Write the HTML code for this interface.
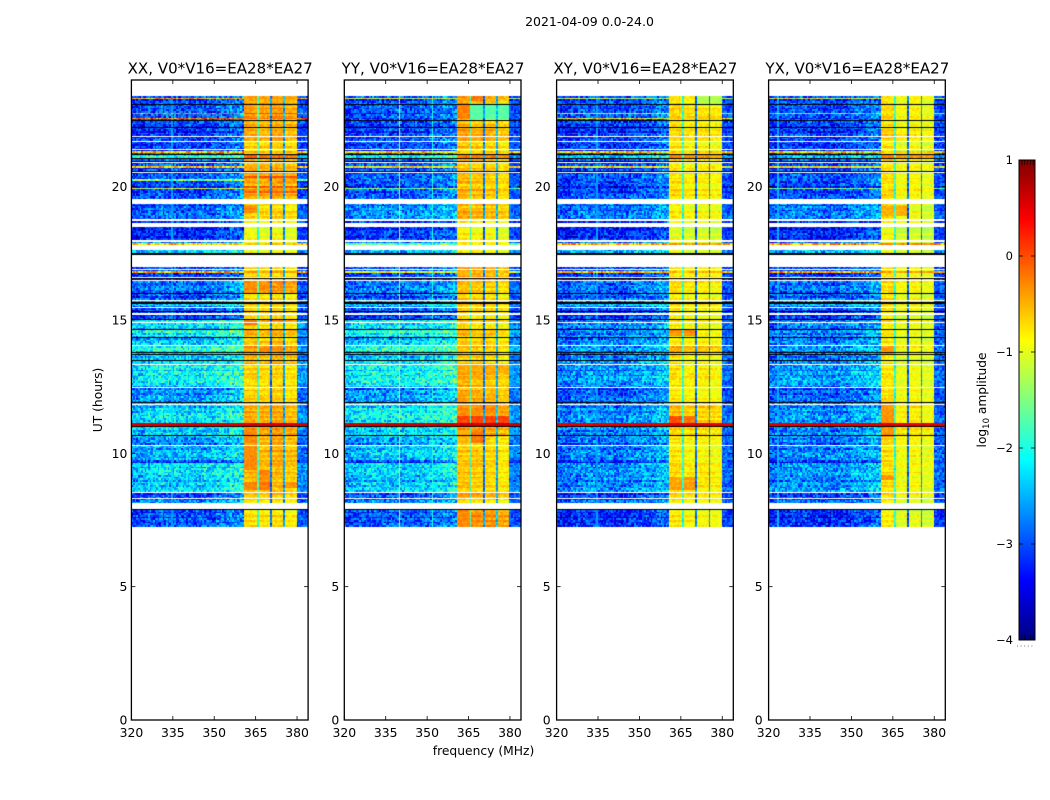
<!DOCTYPE html>
<html lang="en">
<head>
<meta charset="utf-8">
<title>2021-04-09 waterfall</title>
<style>
html,body{margin:0;padding:0;background:#fff;width:1050px;height:800px;overflow:hidden}
#figure{position:relative;width:1050px;height:800px;background:#fff}
canvas{position:absolute;top:80px}
svg{position:absolute;left:0;top:0}
text{font-family:"DejaVu Sans","Liberation Sans",sans-serif;fill:#000}
</style>
</head>
<body>
<div id="figure">
<svg id="overlay" width="1050" height="800" viewBox="0 0 1050 800">
<defs><linearGradient id="jetGrad" x1="0" y1="1" x2="0" y2="0"></linearGradient></defs>
<text x="589.5" y="26" font-size="12.5" text-anchor="middle">2021-04-09 0.0-24.0</text>
<text x="483.5" y="755" font-size="12.3" text-anchor="middle">frequency (MHz)</text>
<text transform="translate(102,400) rotate(-90)" font-size="12.3" text-anchor="middle">UT (hours)</text>
<text transform="translate(986,400) rotate(-90)" font-size="12.2" text-anchor="middle">log<tspan font-size="8.5" dy="3">10</tspan><tspan dy="-3"> amplitude</tspan></text>
</svg>
</div>
<script>
// ---- Axis values ----
const xTickValues = [320, 335, 350, 365, 380];
const yTickValues = [0, 5, 10, 15, 20];
const colorbarTicks = [1, 0, -1, -2, -3, -4];
const panelNames = ['XX', 'YY', 'XY', 'YX'];

// ---- Time bands: UT hour at which each band starts ----
const utBandStarts = [7.25,8.15,8.33,8.55,9.64,9.75,10.31,10.65,11.0,11.14,11.88,12.48,13.33,13.75,14.02,14.35,14.65,14.89,15.02,15.19,15.33,15.47,15.72,16.0,16.42,16.97,17.53,18.0,18.78,19.53,20.55,20.94,21.05,21.18,21.37,21.67,22.2,22.47,23.08];
const dataEndUT = 23.4;

// ---- Off-band log10 amplitude (320-361 MHz), one per time band ----
const bgXX = [-3.0,-2.7,-3.0,-2.3,-3.0,-2.5,-2.6,-2.35,0.55,-2.25,-2.6,-2.15,-2.35,-1.95,-2.4,-1.95,-2.35,-2.0,-3.1,-3.2,-2.9,-2.3,-2.9,-2.8,-3.1,-3.1,-2.4,-3.2,-2.9,-3.0,-3.0,-3.0,-2.0,-2.9,-3.1,-3.1,-3.1,-3.0,-3.0];
const bgYY = [-3.0,-2.7,-3.0,-2.35,-3.0,-2.4,-2.55,-2.3,0.6,-2.15,-2.6,-2.1,-2.3,-1.95,-2.4,-1.95,-2.3,-2.0,-3.1,-3.2,-2.9,-2.4,-2.85,-2.8,-3.0,-3.1,-2.5,-3.15,-2.7,-2.95,-2.95,-3.0,-2.1,-2.95,-3.05,-3.05,-3.1,-3.0,-3.0];
const bgXY = [-3.2,-2.9,-3.1,-2.7,-3.1,-2.75,-2.8,-2.7,0.5,-2.7,-2.9,-2.65,-2.7,-2.6,-2.75,-2.65,-2.75,-2.7,-3.15,-3.2,-3.0,-2.5,-2.9,-2.85,-3.1,-3.1,-2.5,-3.25,-2.85,-3.05,-3.05,-3.05,-2.4,-2.95,-3.1,-3.1,-3.1,-3.05,-3.05];
const bgYX = [-3.2,-2.9,-3.1,-2.65,-3.1,-2.7,-2.8,-2.7,0.5,-2.65,-2.9,-2.6,-2.75,-2.55,-2.75,-2.65,-2.8,-2.7,-3.15,-3.2,-3.0,-2.5,-2.85,-2.85,-3.1,-3.1,-2.5,-3.25,-2.8,-3.05,-3.05,-3.05,-2.4,-2.95,-3.1,-3.1,-3.1,-3.05,-3.05];

// ---- In-band log10 amplitude (361-380 MHz), one per time band ----
const passXX = [-0.8,-0.8,-0.7,-0.6,-0.55,-0.55,-0.55,-0.5,0.5,-0.55,-0.7,-0.75,-0.55,-0.45,-0.7,-0.55,-0.75,-0.5,-0.7,-0.7,-0.75,-0.7,-0.8,-0.45,-0.8,-0.7,-0.9,-1.0,-0.75,-0.5,-0.6,-0.7,-0.35,-0.8,-0.7,-0.55,-0.6,-0.45,-0.45];
const passYY = [-0.4,-0.8,-0.6,-0.7,-0.7,-0.7,-0.75,-0.55,0.55,-0.4,-0.55,-0.6,-0.7,-0.7,-0.75,-0.65,-0.8,-0.7,-0.8,-0.8,-0.75,-0.7,-0.75,-0.7,-0.55,-0.7,-0.8,-0.95,-0.6,-0.65,-0.7,-0.7,-0.4,-0.75,-0.7,-0.55,-0.7,-0.5,-0.5];
const passXY = [-0.85,-0.85,-0.8,-0.75,-0.85,-0.85,-0.85,-0.75,0.4,-0.65,-0.85,-0.8,-0.8,-0.55,-0.85,-0.85,-0.85,-0.8,-0.85,-0.9,-0.85,-0.8,-0.9,-0.8,-0.85,-0.8,-0.95,-1.05,-0.9,-0.8,-0.85,-0.8,-0.45,-0.9,-0.85,-0.75,-0.85,-0.7,-0.8];
const passYX = [-0.95,-0.95,-0.9,-0.85,-0.85,-0.85,-0.85,-0.75,0.35,-0.8,-0.85,-0.9,-0.9,-0.8,-0.95,-0.9,-0.9,-0.85,-0.95,-0.95,-0.9,-0.85,-0.9,-0.85,-0.9,-0.85,-0.95,-1.05,-0.95,-0.85,-0.9,-0.85,-0.45,-0.95,-0.9,-0.8,-0.9,-0.8,-0.85];

// ---- Per-panel tilt of the four in-band sub-bands (log10) ----
const subOffsetXX = [0.05, 0, 0.05, -0.05];
const subOffsetYY = [0.1, 0.05, 0, -0.1];
const subOffsetXY = [0.05, -0.05, -0.05, -0.1];
const subOffsetYX = [0.1, -0.1, -0.05, -0.15];

// ---- Frequency structure in MHz ----
const subBandEdges = [360.4, 365.3, 365.9, 370, 371, 375, 375.8, 379.8];
const gapLevels = [-1.9, -2.8, -2.6];
const offBandShape = [-0.1, 0.03, 0.05, 0, -0.03, 0.05, 0.15, 0.3];

// ---- Flagged (blank) and zero-valued (black) time ranges, UT hours ----
const whiteRanges = [[7.9,8.15],[8.29,8.33],[8.51,8.55],[10.27,10.31],[11.8,11.84],[12.45,12.49],[13.31,13.35],[14.0,14.05],[14.87,14.91],[15.19,15.28],[15.46,15.5],[15.71,15.75],[16.46,16.5],[16.57,16.6],[16.88,16.91],[16.97,17.46],[17.62,17.8],[17.92,17.99],[18.5,18.65],[18.72,18.78],[19.35,19.53],[20.5,20.54],[20.88,20.92],[21.36,21.4],[21.66,21.7],[21.87,21.91],[22.46,22.5]];
const blackRanges = [[7.85,7.9],[10.98,11.02],[10.66,10.7],[11.87,11.91],[13.45,13.49],[13.68,13.72],[13.75,13.79],[14.33,14.37],[14.64,14.68],[15.01,15.05],[15.28,15.33],[15.58,15.62],[15.64,15.68],[15.99,16.03],[16.52,16.56],[17.46,17.53],[20.54,20.58],[20.93,20.97],[21.04,21.08],[21.17,21.21],[22.19,22.23],[22.45,22.49],[23.07,23.11]];

// ---- Interference rows: UT hour, log10 amplitude ----
const rfiXX = [[23.28,-0.4],[22.72,-0.1],[22.55,-0.2],[21.3,-0.5],[20.73,-0.5],[17.86,-0.6],[16.8,-0.4],[19.9,-1.0],[20.2,-1.4],[20.0,-0.8]];
const rfiYY = [[23.28,-0.9],[21.3,-0.6],[20.73,-0.7],[17.86,-1.6],[16.8,-0.9],[20.0,-1.6],[19.9,-1.5]];
const rfiXY = [[23.28,-1.1],[22.72,-0.8],[22.55,-0.6],[21.3,-0.6],[20.73,-0.8],[17.86,-0.4],[16.8,-0.5],[20.0,-1.6]];
const rfiYX = [[23.28,-0.9],[22.72,-1.7],[21.3,-0.6],[20.73,-0.8],[17.86,-0.3],[16.8,-0.4],[20.0,-1.6],[19.9,-1.5]];

// ---- Narrow interference channels: MHz, log10 amplitude ----
const channelLinesXX = [[334.5,-2.6]];
const channelLinesYY = [[340,-1.2],[351.8,-2.0]];
const channelLinesXY = [[334.5,-2.6]];
const channelLinesYX = [[323,-2.5]];

// ---- Hot patches: UT start, UT end, MHz start, MHz end, log10 amplitude ----
const patchesXX = [[9.4,10.9,360.4,365.3,-0.3],[8.6,8.95,360.4,365.3,-0.25],[8.6,8.95,366,370,-0.2],[8.95,9.35,366,370,-0.3],[8.7,8.95,375.8,379.8,-0.35],[14.8,15.0,360.4,365.3,-0.2],[13.8,14.0,366,370,-0.3],[13.8,14.0,371,375,-0.3],[16.1,16.35,360.4,365.3,-0.3],[16.1,16.35,366,370,-0.3],[20.3,20.36,360.4,379.8,0.0],[19.93,20.0,360.4,379.8,0.05],[19.74,19.8,360.4,379.8,0],[21.1,21.18,360.4,379.8,0.05],[19.0,19.34,360.4,365.3,-0.3],[22.7,22.75,360.4,379.8,0.1]];
const patchesYY = [[11.14,11.4,360.4,379.8,0.05],[10.4,10.9,366,370,-0.2],[10.4,10.9,360.4,365.3,-0.5],[22.5,23.1,365.9,379.8,-1.7],[22.5,23.1,360.4,365.3,-0.25],[23.2,23.4,366,370,-0.2],[11.5,11.85,360.4,375,-0.3],[7.25,7.85,360.4,365.3,-0.3],[13.0,13.3,360.4,379.8,-0.45],[21.1,21.18,360.4,379.8,-0.1]];
const patchesXY = [[11.14,11.35,360.4,365.3,0],[11.14,11.35,366,370,-0.2],[21.1,21.18,360.4,379.8,-0.15],[23.0,23.4,371,379.8,-1.25],[8.65,9.1,360.4,370,-0.4],[14.35,14.62,360.4,370,-0.3],[19.97,20.03,360.4,379.8,-0.4]];
const patchesYX = [[10.6,11.9,360.4,365.3,-0.35],[9.0,9.2,360.4,365.3,-0.35],[21.1,21.18,360.4,379.8,-0.15],[19.97,20.03,360.4,379.8,-0.4],[13.7,14.0,360.4,365.3,-0.35],[18.9,19.3,360.4,370,-0.5]];

// ---- Hand-typed texture deviations (cell grain and row ripple) ----
const grain = [0.5,-0.3,0.1,-0.7,0.8,0.2,-0.5,0,0.6,-0.9,0.3,-0.2,0.7,-0.6,0.1,0.4,-0.8,0.2,-0.1,0.9,-0.4,0.3,-0.7,0.5,0,-0.3,0.6,-0.5,0.2,-1.0,0.4,0.1,-0.2,0.7,-0.6,0.3,-0.4,0.8,0,-0.8,0.5,-0.1,0.2,-0.5,0.6,-0.3,0.9,-0.7,0.1,0.4,-0.2,0.3,-0.9,0.6,0,-0.4,0.7,-0.6,0.2,0.5,-0.1];
const rowRipple = [0.05,0.05,-0.3,0.05,0.1,-0.55,0,0.05,-0.2,0.05,0.1];
const passRipple = [0.2,-0.1,0,0.25,-0.15,0.05,0.3,-0.1,0,-0.2,0.1,0.2,-0.05];

// ---- Layout constants ----
const panelLefts = [131.4, 344.3, 556.6, 768.6];
const yLabelGaps = [4, 5, 6, 6];
const panelWidth = 176.7;
const plotTop = 80, plotBottom = 720;
const channelStep = 0.6, rowStep = 0.0625;
const colorbarLeft = 1019, colorbarRight = 1035, colorbarTop = 160, colorbarBottom = 640;

const panelSeries = {
  XX: {bg: bgXX, pass: passXX, sub: subOffsetXX, rfi: rfiXX, lines: channelLinesXX, patches: patchesXX},
  YY: {bg: bgYY, pass: passYY, sub: subOffsetYY, rfi: rfiYY, lines: channelLinesYY, patches: patchesYY},
  XY: {bg: bgXY, pass: passXY, sub: subOffsetXY, rfi: rfiXY, lines: channelLinesXY, patches: patchesXY},
  YX: {bg: bgYX, pass: passYX, sub: subOffsetYX, rfi: rfiYX, lines: channelLinesYX, patches: patchesYX}
};

function xScale(freq, left) { return left + (freq - 320) * panelWidth / 64; }
function yScale(ut) { return plotBottom - ut * (plotBottom - plotTop) / 24; }
function cbScale(v) { return colorbarBottom - (v + 4) * (colorbarBottom - colorbarTop) / 5; }
function clamp01(x) { return Math.max(0, Math.min(1, x)); }
function jet(t) {
  const r = clamp01(1.5 - Math.abs(4 * t - 3));
  const g = clamp01(1.5 - Math.abs(4 * t - 2));
  const b = clamp01(1.5 - Math.abs(4 * t - 1));
  return 'rgb(' + Math.round(r * 255) + ',' + Math.round(g * 255) + ',' + Math.round(b * 255) + ')';
}
function colorOf(v) { return jet(clamp01((v + 4) / 5)); }
function bandIndex(ut) {
  let k = 0;
  for (let i = 0; i < utBandStarts.length; i++) { if (ut >= utBandStarts[i]) k = i; }
  return k;
}
function grainAt(r, c, seed) {
  const i = (c * 13 + r * 29 + seed) % grain.length;
  return grain[(i * i * i + c * r * 3 + c * 5) % grain.length];
}
function cellValue(s, ut, f, r, c, pi) {
  const g = grainAt(r, c, pi * 17);
  const k = bandIndex(ut);
  const ripple = rowRipple[r % rowRipple.length];
  const pRipple = passRipple[r % passRipple.length];
  const e = subBandEdges;
  if (s.bg[k] > 0) return s.bg[k] + g * 0.08;
  const rowRfi = s.rfi.find(function (q) { return Math.abs(q[0] - ut) < rowStep / 2; });
  if (f >= e[0] && f < e[7]) {
    let sub = 3, gap = -1;
    if (f < e[1]) sub = 0;
    else if (f < e[2]) gap = 0;
    else if (f < e[3]) sub = 1;
    else if (f < e[4]) gap = 1;
    else if (f < e[5]) sub = 2;
    else if (f < e[6]) gap = 2;
    if (gap >= 0) return gapLevels[gap] + g * 0.35 + (s.pass[k] + 0.7) * 0.5;
    for (let i = s.patches.length - 1; i >= 0; i--) {
      const p = s.patches[i];
      if (ut >= p[0] && ut < p[1] && f >= p[2] && f < p[3]) return p[4] + g * 0.12 + ripple * 0.15;
    }
    if (rowRfi) return Math.max(rowRfi[1], s.pass[k]) + g * 0.2;
    return s.pass[k] + s.sub[sub] + g * 0.18 + pRipple * 0.6;
  }
  if (rowRfi) return rowRfi[1] + g * 0.7 - 0.1;
  if (f >= e[7]) return (s.bg[k] + 3.0) * 0.45 - 3.0 + g * 0.45 + ripple * 0.3;
  for (let i = 0; i < s.lines.length; i++) {
    if (Math.abs(s.lines[i][0] - f) < channelStep / 2) return Math.max(s.lines[i][1], s.bg[k]) + g * 0.1;
  }
  const shapeIdx = Math.min(offBandShape.length - 1, Math.floor((f - 320) / (41 / offBandShape.length)));
  return s.bg[k] + offBandShape[shapeIdx] + g * 0.62 + ripple * 0.6;
}

function svgEl(tag, attrs) {
  const el = document.createElementNS('http://www.w3.org/2000/svg', tag);
  for (const key in attrs) el.setAttribute(key, attrs[key]);
  return el;
}

const figure = document.getElementById('figure');
const overlay = document.getElementById('overlay');

panelNames.forEach(function (name, pi) {
  const left = panelLefts[pi];
  const s = panelSeries[name];
  const cx0 = Math.floor(left);
  const cw = Math.ceil(panelWidth) + 2;
  const canvas = document.createElement('canvas');
  
  
  canvas.width = cw;
  canvas.height = plotBottom - plotTop;
  canvas.style.left = cx0 + 'px';
  figure.insertBefore(canvas, overlay);
  const ctx = canvas.getContext('2d');

  // one pixel per cell, then placed onto the axes
  const rowCount = Math.round((dataEndUT - utBandStarts[0]) / rowStep);
  const colCount = Math.round(64 / channelStep);
  const grid = document.createElement('canvas');
  grid.width = colCount;
  grid.height = rowCount;
  const gctx = grid.getContext('2d');
  for (let r = 0; r < rowCount; r++) {
    const ut = utBandStarts[0] + (r + 0.5) * rowStep;
    for (let c = 0; c < colCount; c++) {
      const f = 320 + (c + 0.5) * 64 / colCount;
      gctx.fillStyle = colorOf(cellValue(s, ut, f, r, c, pi));
      gctx.fillRect(c, rowCount - 1 - r, 1, 1);
    }
  }
  const plotX = xScale(320, left) - cx0;
  const plotW = xScale(384, left) - xScale(320, left);
  const plotY = yScale(dataEndUT) - plotTop;
  const plotH = yScale(utBandStarts[0]) - yScale(dataEndUT);
  ctx.imageSmoothingEnabled = false;
  ctx.drawImage(grid, plotX, plotY, plotW, plotH);

  // flagged rows in white, zero-valued rows in black
  function paintRange(range, color) {
    const yA = Math.round(yScale(range[1])) - plotTop;
    const h = Math.max(1, Math.round(yScale(range[0]) - yScale(range[1])));
    ctx.fillStyle = color;
    ctx.fillRect(plotX, yA, plotW, h);
  }
  whiteRanges.forEach(function (range) { paintRange(range, '#fff'); });
  blackRanges.forEach(function (range) { paintRange(range, '#000'); });

  // axes frame
  const frame = svgEl('rect', {x: left, y: plotTop, width: panelWidth, height: plotBottom - plotTop, fill: 'none', stroke: '#000', 'stroke-width': 1.3});
  
  
  overlay.appendChild(frame);

  // panel title
  const title = svgEl('text', {x: left + panelWidth / 2 + 0.4, y: 73.5, 'font-size': 15.05, 'text-anchor': 'middle'});
  
  
  title.textContent = name + ', V0*V16=EA28*EA27';
  overlay.appendChild(title);

  // x ticks
  xTickValues.forEach(function (v) {
    const x = xScale(v, left);
    [[plotBottom, plotBottom - 4], [plotTop, plotTop + 4]].forEach(function (seg) {
      const tick = svgEl('line', {x1: x, x2: x, y1: seg[0], y2: seg[1], stroke: '#000', 'stroke-width': 0.8});
      
      
      overlay.appendChild(tick);
    });
    const label = svgEl('text', {x: x, y: 737, 'font-size': 12.4, 'text-anchor': 'middle'});
    
    
    label.textContent = v;
    overlay.appendChild(label);
  });

  // y ticks
  yTickValues.forEach(function (v) {
    const y = yScale(v);
    [[left, left + 4], [left + panelWidth, left + panelWidth - 4]].forEach(function (seg) {
      const tick = svgEl('line', {x1: seg[0], x2: seg[1], y1: y, y2: y, stroke: '#000', 'stroke-width': 0.8});
      
      
      overlay.appendChild(tick);
    });
    const label = svgEl('text', {x: left - yLabelGaps[pi], y: y + 4.5, 'font-size': 12.4, 'text-anchor': 'end'});
    
    
    label.textContent = v;
    overlay.appendChild(label);
  });
});

// colorbar gradient stops
const grad = document.getElementById('jetGrad');
for (let i = 0; i <= 40; i++) {
  const stop = svgEl('stop', {offset: (i / 40), 'stop-color': jet(i / 40)});
  grad.appendChild(stop);
}
const cb = svgEl('rect', {x: colorbarLeft, y: colorbarTop, width: colorbarRight - colorbarLeft, height: colorbarBottom - colorbarTop, fill: 'url(#jetGrad)', stroke: '#000', 'stroke-width': 1});


overlay.appendChild(cb);

colorbarTicks.forEach(function (v) {
  const y = cbScale(v);
  [[colorbarLeft, colorbarLeft + 4], [colorbarRight, colorbarRight - 4]].forEach(function (seg) {
    const tick = svgEl('line', {x1: seg[0], x2: seg[1], y1: y, y2: y, stroke: '#000', 'stroke-width': 0.8});
    
    
    overlay.appendChild(tick);
  });
  const label = svgEl('text', {x: colorbarLeft - 6, y: y + 4, 'font-size': 11.5, 'text-anchor': 'end'});
  
  
  label.textContent = v < 0 ? '\u2212' + Math.abs(v) : String(v);
  overlay.appendChild(label);
});

// short colorbar edge ticks and the squeezed dotted labels below it
[0, 1, 2, 3, 4].forEach(function (i) {
  const x = colorbarLeft + 3 + i * 2.8;
  [[colorbarTop, colorbarTop + 5], [colorbarBottom, colorbarBottom - 5]].forEach(function (seg) {
    const tick = svgEl('line', {x1: x, x2: x, y1: seg[0], y2: seg[1], stroke: '#000', 'stroke-width': 0.7});
    
    
    overlay.appendChild(tick);
  });
});
const dots = svgEl('line', {x1: 1017, x2: 1035, y1: 646, y2: 646, stroke: '#777', 'stroke-width': 1, 'stroke-dasharray': '1 2.6'});


overlay.appendChild(dots);
</script>
</body>
</html>
